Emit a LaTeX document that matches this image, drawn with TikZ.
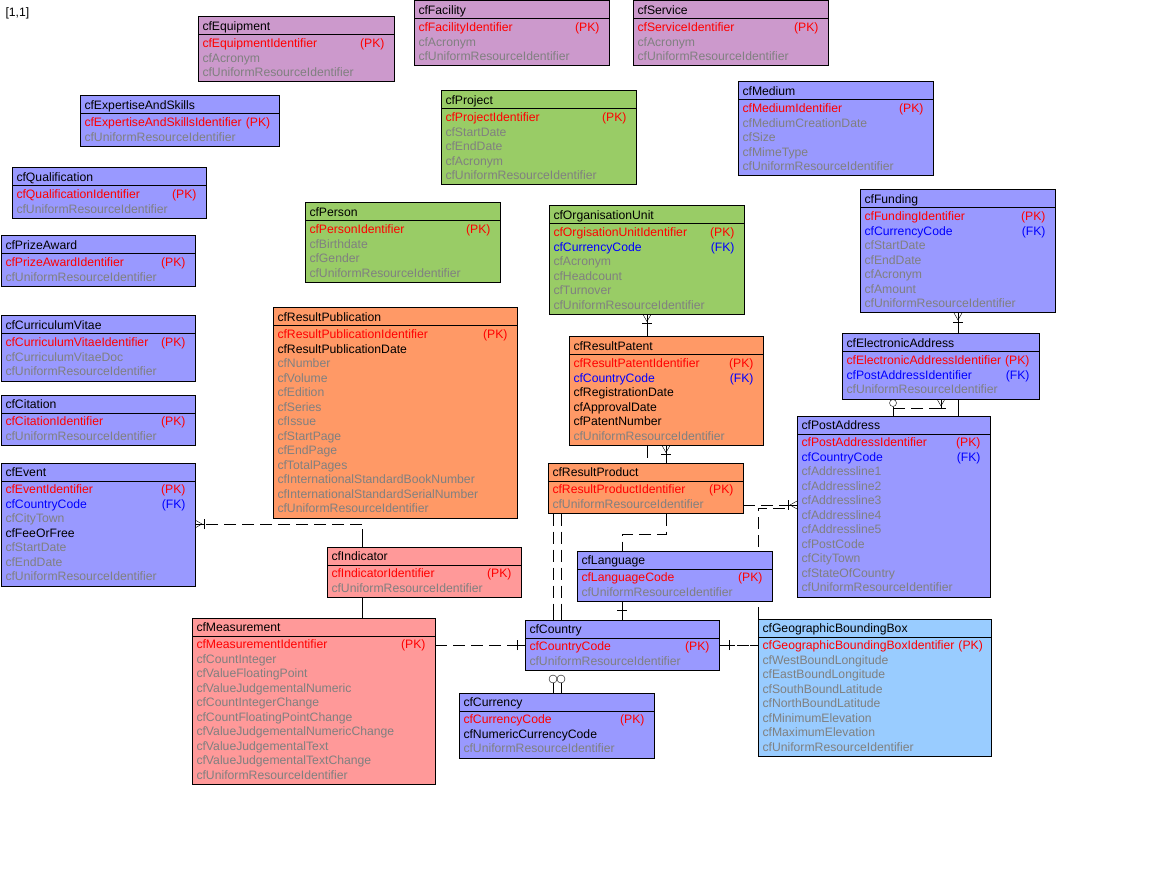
\documentclass[tikz,border=0pt]{standalone}
\usepackage{fontspec}
\setmainfont{Liberation Sans}
\usetikzlibrary{shapes.multipart,calc,backgrounds}

\definecolor{entlilac}{HTML}{CC99CC}
\definecolor{entblue}{HTML}{9999FF}
\definecolor{entgreen}{HTML}{99CC66}
\definecolor{entorange}{HTML}{FF9966}
\definecolor{entpink}{HTML}{FF9999}
\definecolor{entsky}{HTML}{99CCFF}
\definecolor{keyred}{HTML}{FF0000}
\definecolor{keyblue}{HTML}{0000FF}
\definecolor{attrgray}{HTML}{808080}

\newcommand{\tstrut}{\rule[-2.75pt]{0pt}{14.5pt}}
\newcommand{\rstrut}{\rule[-3.55pt]{0pt}{14.5pt}}
\newcommand{\pkrow}[1]{\makebox[\linewidth][l]{\rstrut\color{keyred}#1\hfill\ (PK)\hspace*{5pt}}}
\newcommand{\fkrow}[1]{\makebox[\linewidth][l]{\rstrut\color{keyblue}#1\hfill\ (FK)\hspace*{5pt}}}
\newcommand{\attrow}[1]{\makebox[\linewidth][l]{\rstrut\color{attrgray}#1}}
\newcommand{\blkrow}[1]{\makebox[\linewidth][l]{\rstrut#1}}

\tikzset{
  entity/.style={rectangle split, rectangle split parts=2, draw, anchor=north west,
    inner xsep=4.5pt, inner ysep=1.25pt, outer sep=0pt, text width=#1,
    font=\fontsize{12.2}{14.5}\selectfont},
  rel/.style={dash pattern=on 12pt off 6pt},
  crow/.pic={\draw (-4,0) -- (0,7) -- (4,0); \draw (-5,9) -- (5,9);},
  one/.pic={\draw (-5,0) -- (5,0);},
}

\begin{document}
\begin{tikzpicture}[x=1pt, y=-1pt, line width=1pt]
  \useasboundingbox (0,0) rectangle (1164,874);
  \node[anchor=base west, inner sep=0pt, font=\fontsize{12.2}{14.5}\selectfont] (page) at (5,17) {[1,1]};

  \node[entity=187pt, fill=entlilac] (eq) at (198,17) {\tstrut cfEquipment
    \nodepart{two}\pkrow{cfEquipmentIdentifier}\\\attrow{cfAcronym}\\\attrow{cfUniformResourceIdentifier}};
  \node[entity=186pt, fill=entlilac] (fac) at (414,1) {\tstrut cfFacility
    \nodepart{two}\pkrow{cfFacilityIdentifier}\\\attrow{cfAcronym}\\\attrow{cfUniformResourceIdentifier}};
  \node[entity=186pt, fill=entlilac] (srv) at (633,1) {\tstrut cfService
    \nodepart{two}\pkrow{cfServiceIdentifier}\\\attrow{cfAcronym}\\\attrow{cfUniformResourceIdentifier}};
  \node[entity=190pt, fill=entblue] (eas) at (80,96) {\tstrut cfExpertiseAndSkills
    \nodepart{two}\pkrow{cfExpertiseAndSkillsIdentifier}\\\attrow{cfUniformResourceIdentifier}};
  \node[entity=185pt, fill=entblue] (qual) at (12,168) {\tstrut cfQualification
    \nodepart{two}\pkrow{cfQualificationIdentifier}\\\attrow{cfUniformResourceIdentifier}};
  \node[entity=186pt, fill=entgreen] (proj) at (441,91) {\tstrut cfProject
    \nodepart{two}\pkrow{cfProjectIdentifier}\\\attrow{cfStartDate}\\\attrow{cfEndDate}\\\attrow{cfAcronym}\\\attrow{cfUniformResourceIdentifier}};
  \node[entity=186pt, fill=entblue] (med) at (738,82) {\tstrut cfMedium
    \nodepart{two}\pkrow{cfMediumIdentifier}\\\attrow{cfMediumCreationDate}\\\attrow{cfSize}\\\attrow{cfMimeType}\\\attrow{cfUniformResourceIdentifier}};
  \node[entity=186pt, fill=entgreen] (pers) at (305,203) {\tstrut cfPerson
    \nodepart{two}\pkrow{cfPersonIdentifier}\\\attrow{cfBirthdate}\\\attrow{cfGender}\\\attrow{cfUniformResourceIdentifier}};
  \node[entity=186pt, fill=entgreen] (ou) at (549,206) {\tstrut cfOrganisationUnit
    \nodepart{two}\pkrow{cfOrgisationUnitIdentifier}\\\fkrow{cfCurrencyCode}\\\attrow{cfAcronym}\\\attrow{cfHeadcount}\\\attrow{cfTurnover}\\\attrow{cfUniformResourceIdentifier}};
  \node[entity=186pt, fill=entblue] (fund) at (860,190) {\tstrut cfFunding
    \nodepart{two}\pkrow{cfFundingIdentifier}\\\fkrow{cfCurrencyCode}\\\attrow{cfStartDate}\\\attrow{cfEndDate}\\\attrow{cfAcronym}\\\attrow{cfAmount}\\\attrow{cfUniformResourceIdentifier}};
  \node[entity=185pt, fill=entblue] (prize) at (1,236) {\tstrut cfPrizeAward
    \nodepart{two}\pkrow{cfPrizeAwardIdentifier}\\\attrow{cfUniformResourceIdentifier}};
  \node[entity=185pt, fill=entblue] (cv) at (1,316) {\tstrut cfCurriculumVitae
    \nodepart{two}\pkrow{cfCurriculumVitaeIdentifier}\\\attrow{cfCurriculumVitaeDoc}\\\attrow{cfUniformResourceIdentifier}};
  \node[entity=185pt, fill=entblue] (cit) at (1,395) {\tstrut cfCitation
    \nodepart{two}\pkrow{cfCitationIdentifier}\\\attrow{cfUniformResourceIdentifier}};
  \node[entity=185pt, fill=entblue] (ev) at (1,463) {\tstrut cfEvent
    \nodepart{two}\pkrow{cfEventIdentifier}\\\fkrow{cfCountryCode}\\\attrow{cfCityTown}\\\blkrow{cfFeeOrFree}\\\attrow{cfStartDate}\\\attrow{cfEndDate}\\\attrow{cfUniformResourceIdentifier}};
  \node[entity=235pt, fill=entorange] (rpub) at (273,308) {\tstrut cfResultPublication
    \nodepart{two}\pkrow{cfResultPublicationIdentifier}\\\blkrow{cfResultPublicationDate}\\\attrow{cfNumber}\\\attrow{cfVolume}\\\attrow{cfEdition}\\\attrow{cfSeries}\\\attrow{cfIssue}\\\attrow{cfStartPage}\\\attrow{cfEndPage}\\\attrow{cfTotalPages}\\\attrow{cfInternationalStandardBookNumber}\\\attrow{cfInternationalStandardSerialNumber}\\\attrow{cfUniformResourceIdentifier}};
  \node[entity=185pt, fill=entorange] (rpat) at (569,337) {\tstrut cfResultPatent
    \nodepart{two}\pkrow{cfResultPatentIdentifier}\\\fkrow{cfCountryCode}\\\blkrow{cfRegistrationDate}\\\blkrow{cfApprovalDate}\\\blkrow{cfPatentNumber}\\\attrow{cfUniformResourceIdentifier}};
  \node[entity=186pt, fill=entorange] (rprod) at (548,463) {\tstrut cfResultProduct
    \nodepart{two}\pkrow{cfResultProductIdentifier}\\\attrow{cfUniformResourceIdentifier}};
  \node[entity=188pt, fill=entblue] (elad) at (842,334) {\tstrut cfElectronicAddress
    \nodepart{two}\pkrow{cfElectronicAddressIdentifier}\\\fkrow{cfPostAddressIdentifier}\\\attrow{cfUniformResourceIdentifier}};
  \node[entity=184pt, fill=entblue] (post) at (797,416) {\tstrut cfPostAddress
    \nodepart{two}\pkrow{cfPostAddressIdentifier}\\\fkrow{cfCountryCode}\\\attrow{cfAddressline1}\\\attrow{cfAddressline2}\\\attrow{cfAddressline3}\\\attrow{cfAddressline4}\\\attrow{cfAddressline5}\\\attrow{cfPostCode}\\\attrow{cfCityTown}\\\attrow{cfStateOfCountry}\\\attrow{cfUniformResourceIdentifier}};
  \node[entity=185pt, fill=entpink] (ind) at (327,547) {\tstrut cfIndicator
    \nodepart{two}\pkrow{cfIndicatorIdentifier}\\\attrow{cfUniformResourceIdentifier}};
  \node[entity=234pt, fill=entpink] (meas) at (192,618) {\tstrut cfMeasurement
    \nodepart{two}\pkrow{cfMeasurementIdentifier}\\\attrow{cfCountInteger}\\\attrow{cfValueFloatingPoint}\\\attrow{cfValueJudgementalNumeric}\\\attrow{cfCountIntegerChange}\\\attrow{cfCountFloatingPointChange}\\\attrow{cfValueJudgementalNumericChange}\\\attrow{cfValueJudgementalText}\\\attrow{cfValueJudgementalTextChange}\\\attrow{cfUniformResourceIdentifier}};
  \node[entity=186pt, fill=entblue] (lang) at (577,551) {\tstrut cfLanguage
    \nodepart{two}\pkrow{cfLanguageCode}\\\attrow{cfUniformResourceIdentifier}};
  \node[entity=185pt, fill=entblue] (ctry) at (525,620) {\tstrut cfCountry
    \nodepart{two}\pkrow{cfCountryCode}\\\attrow{cfUniformResourceIdentifier}};
  \node[entity=186pt, fill=entblue] (cur) at (459,693) {\tstrut cfCurrency
    \nodepart{two}\pkrow{cfCurrencyCode}\\\blkrow{cfNumericCurrencyCode}\\\attrow{cfUniformResourceIdentifier}};
  \node[entity=224pt, fill=entsky] (gbb) at (758,619) {\tstrut cfGeographicBoundingBox
    \nodepart{two}\pkrow{cfGeographicBoundingBoxIdentifier}\\\attrow{cfWestBoundLongitude}\\\attrow{cfEastBoundLongitude}\\\attrow{cfSouthBoundLatitude}\\\attrow{cfNorthBoundLatitude}\\\attrow{cfMinimumElevation}\\\attrow{cfMaximumElevation}\\\attrow{cfUniformResourceIdentifier}};

  \begin{pgfonlayer}{background}
    \coordinate (ouPat) at ($(ou.south west)+(98,0)$);
    \draw (ouPat) -- (ouPat |- rpat.north);
    \pic at (ouPat) {crow};
    \coordinate (fuEa) at ($(fund.south west)+(98,0)$);
    \draw (fuEa) -- (fuEa |- elad.north);
    \pic at (fuEa) {crow};

    \coordinate (eaPo) at ($(elad.south west)+(51,0)$);
    \coordinate (eaSelf) at ($(elad.south west)+(99,0)$);
    \coordinate (eaPo2) at ($(elad.south west)+(116,0)$);
    \draw ($(eaPo)+(0,4)$) circle[radius=3.5pt];
    \draw ($(eaPo)+(0,7.5)$) -- (eaPo |- post.north);
    \draw (eaSelf) -- ++(0,9);
    \draw[rel] ($(eaSelf)+(0,9)$) -- ($(eaPo)+(0,9)$);
    \pic at (eaSelf) {crow};
    \draw (eaPo2) -- (eaPo2 |- post.north);

    \coordinate (paPr) at ($(rpat.south west)+(97,0)$);
    \draw (paPr) -- (paPr |- rprod.north);
    \pic at (paPr) {crow};
    \coordinate (paPr2) at ($(rpat.south west)+(78,0)$);
    \draw[rel] (paPr2) -- (paPr2 |- rprod.north);

    \coordinate (prLa) at ($(rprod.south west)+(118,0)$);
    \coordinate (laTop) at ($(lang.north west)+(45,0)$);
    \draw[rel] (prLa) -- ++(0,21) -| (laTop);

    \coordinate (prCa) at ($(rprod.south west)+(5,0)$);
    \coordinate (prCb) at ($(rprod.south west)+(13,0)$);
    \draw[rel] (prCa) -- (prCa |- ctry.north);
    \draw[rel] (prCb) -- (prCb |- ctry.north);
    \draw (prCa |- ctry.north) -- ++(0,-10);
    \draw (prCb |- ctry.north) -- ++(0,-10);

    \coordinate (laCt) at ($(lang.south west)+(45,0)$);
    \draw (laCt) -- (laCt |- ctry.north);
    \pic at ($(laCt |- ctry.north)+(0,-10)$) {one};

    \coordinate (meCt) at ($(meas.north east)+(0,27)$);
    \draw[rel] (meCt) -- (meCt -| ctry.west);
    \draw (meCt -| ctry.west) -- ++(-12,0);
    \pic[rotate=90] at ($(meCt -| ctry.west)+(-8,0)$) {one};

    \coordinate (ctGb) at ($(ctry.north east)+(0,25)$);
    \draw[rel] (ctGb) -- (ctGb -| gbb.west);
    \draw (ctGb) -- ++(16,0);
    \draw (ctGb -| gbb.west) -- ++(-8,0);
    \pic[rotate=90] at ($(ctGb)+(10,0)$) {one};

    \coordinate (cuA) at ($(cur.north west)+(94,0)$);
    \coordinate (cuB) at ($(cur.north west)+(102,0)$);
    \draw (cuA) -- ++(0,-10);
    \draw (cuB) -- ++(0,-10);
    \draw ($(cuA)+(0,-14)$) circle[radius=4pt];
    \draw ($(cuB)+(0,-14)$) circle[radius=4pt];

    \coordinate (inEv) at ($(ind.north west)+(35,0)$);
    \coordinate (evIn) at ($(ev.north east)+(0,61)$);
    \draw (inEv) -- ++(0,-18);
    \draw[rel] (inEv |- evIn) -- (evIn);
    \draw (evIn) -- ++(10,0);
    \pic[rotate=90] at (evIn) {crow};

    \coordinate (inMe) at ($(ind.south west)+(35,0)$);
    \draw (inMe) -- (inMe |- meas.north);

    \coordinate (poIn) at ($(post.north west)+(0,89)$);
    \draw[rel] (poIn -| rprod.east) -- (poIn);
    \draw (poIn) -- ++(-12,0);
    \pic[rotate=-90] at (poIn) {crow};
    \draw[rel] (gbb.north west) |- ($(poIn)+(-12,3)$);
  \end{pgfonlayer}
\end{tikzpicture}
\end{document}
